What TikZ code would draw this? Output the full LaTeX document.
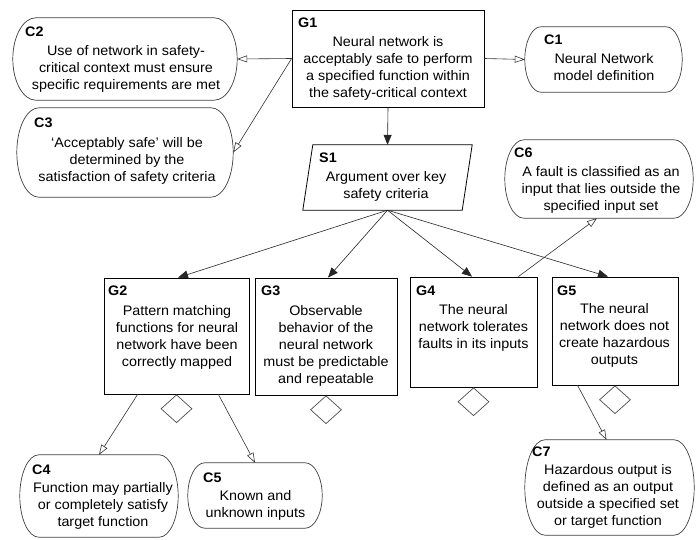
\documentclass[tikz,border=0pt]{standalone}
\usepackage{fontspec}
\setmainfont[FakeStretch=1.04]{Liberation Sans}
\usetikzlibrary{shapes.geometric,arrows.meta}
\newcommand\ctxoutline[3]{%
  \draw[ctxline] ([xshift=#2]#1.north west) -- ([xshift=-#2]#1.north east)
    .. controls ([xshift={-0.448*#2}]#1.north east) and ([yshift={0.552*#3}]#1.east) .. (#1.east)
    .. controls ([yshift={-0.552*#3}]#1.east) and ([xshift={-0.448*#2}]#1.south east) .. ([xshift=-#2]#1.south east)
    -- ([xshift=#2]#1.south west)
    .. controls ([xshift={0.448*#2}]#1.south west) and ([yshift={-0.552*#3}]#1.west) .. (#1.west)
    .. controls ([yshift={0.552*#3}]#1.west) and ([xshift={0.448*#2}]#1.north west) .. ([xshift=#2]#1.north west)
    -- cycle;}
\begin{document}
\begin{tikzpicture}[x=1pt,y=-1pt,
  every node/.style={font=\fontsize{13.8}{17}\selectfont},
  goalbox/.style={draw=black, line width=0.8pt, rectangle, inner sep=0pt},
  ctxbox/.style={draw=none, rectangle, inner sep=0pt},
  ctxline/.style={draw=black!75, line width=0.7pt},
  stratbox/.style={draw=none, rectangle, inner sep=0pt},
  stratline/.style={draw=black, line width=0.8pt},
  undev/.style={draw=black!70, line width=0.7pt, diamond, inner sep=0pt, minimum width=31pt, minimum height=28pt, anchor=north},
  lbl/.style={anchor=base west, inner sep=0pt, font=\fontsize{13.8}{17}\selectfont\bfseries},
  body/.style={anchor=base, inner sep=0pt, align=center},
  supp/.style={draw=black!85, line width=0.6pt, -{Triangle[length=10pt,width=8pt]}},
  ctxarr/.style={draw=black!80, line width=0.6pt, -{Triangle[open,length=10pt,width=7pt]}},
]
\fill[white] (0,0) rectangle (696,540);
\useasboundingbox (0,0) rectangle (696,540);

% goals
\node[goalbox, minimum width=192pt, minimum height=97pt] (G1) at (388,58.5) {};
\node[goalbox, minimum width=145pt, minimum height=116pt] (G2) at (176.5,336) {};
\node[goalbox, minimum width=142pt, minimum height=117pt] (G3) at (326,336.5) {};
\node[goalbox, minimum width=127pt, minimum height=110pt] (G4) at (473.5,332) {};
\node[goalbox, minimum width=126pt, minimum height=108pt] (G5) at (615,331) {};

% strategy
\node[stratbox, minimum width=169pt, minimum height=65pt] (S1) at (387.5,177.5) {};
\draw[stratline] ([xshift=10pt]S1.north west) -- (S1.north east)
  -- ([xshift=-10pt]S1.south east) -- (S1.south west) -- cycle;

% contexts
\node[ctxbox, minimum width=157pt, minimum height=65pt] (C1) at (603.5,59.5) {};
\node[ctxbox, minimum width=224pt, minimum height=82pt] (C2) at (125,59) {};
\node[ctxbox, minimum width=216pt, minimum height=89pt] (C3) at (125,152.5) {};
\node[ctxbox, minimum width=158pt, minimum height=82pt] (C4) at (99,496) {};
\node[ctxbox, minimum width=134pt, minimum height=65pt] (C5) at (255,495.5) {};
\node[ctxbox, minimum width=188pt, minimum height=78pt] (C6) at (599,179) {};
\node[ctxbox, minimum width=169pt, minimum height=95pt] (C7) at (609.5,487.5) {};
\ctxoutline{C1}{16}{32.5}
\ctxoutline{C2}{23}{41}
\ctxoutline{C3}{22}{44.5}
\ctxoutline{C4}{19}{41}
\ctxoutline{C5}{17}{32.5}
\ctxoutline{C6}{19}{39}
\ctxoutline{C7}{20}{47.5}

% undeveloped diamonds
\node[undev] (G2d) at (G2.south) {};
\node[undev] (G3d) at (G3.south) {};
\node[undev] (G4d) at (G4.south) {};
\node[undev] (G5d) at (G5.south) {};

% texts (body nodes are placed at the baseline of their last line)
\node[lbl] (G1l) at (298,28) {G1};
\node[body] (G1t) at (388,98) {Neural network is\\acceptably safe to perform\\a specified function within\\the safety-critical context};
\node[lbl] (C1l) at (544,45) {C1};
\node[body] (C1t) at (604,81) {Neural Network\\model definition};
\node[lbl] (C2l) at (25,37) {C2};
\node[body] (C2t) at (126,90) {Use of network in safety-\\critical context must ensure\\specific requirements are met};
\node[lbl] (C3l) at (34,128) {C3};
\node[body] (C3t) at (127,182) {‘Acceptably safe’ will be\\determined by the\\satisfaction of safety criteria};
\node[lbl] (S1l) at (319,163) {S1};
\node[body] (S1t) at (386,199) {Argument over key\\safety criteria};
\node[lbl] (C6l) at (514,158) {C6};
\node[body] (C6t) at (601,211) {A fault is classified as an\\input that lies outside the\\specified input set};
\node[lbl] (G2l) at (108,295) {G2};
\node[body] (G2t) at (177,366) {Pattern matching\\functions for neural\\network have been\\correctly mapped};
\node[lbl] (G3l) at (261,295) {G3};
\node[body] (G3t) at (326,383) {Observable\\behavior of the\\neural network\\must be predictable\\and repeatable};
\node[lbl] (G4l) at (416,295) {G4};
\node[body] (G4t) at (473.5,348) {The neural\\network tolerates\\faults in its inputs};
\node[lbl] (G5l) at (557,295) {G5};
\node[body] (G5t) at (614.5,364.5) {The neural\\network does not\\create hazardous\\outputs};
\node[lbl] (C4l) at (32,474) {C4};
\node[body] (C4t) at (103,526) {Function may partially\\or completely satisfy\\target function};
\node[lbl] (C5l) at (203,482) {C5};
\node[body] (C5t) at (255.5,517) {Known and\\unknown inputs};
\node[lbl] (C7l) at (532,456) {C7};
\node[body] (C7t) at (608,525) {Hazardous output is\\defined as an output\\outside a specified set\\or target function};

% connectors
\draw[ctxarr] (G1.west) -- (C2.east);
\draw[ctxarr] (G1.west) -- (C3.east);
\draw[ctxarr] (G1.east) -- (C1.west);
\draw[supp] (G1.south) -- (S1.north);
\draw[supp] (S1.south) -- ([xshift=1.5pt]G2.north);
\draw[supp] (S1.south) -- ([xshift=2pt]G3.north);
\draw[supp] (S1.south) -- ([xshift=-1.5pt]G4.north);
\draw[supp] (S1.south) -- ([xshift=-7pt]G5.north);
\draw[ctxarr] ([xshift=-19pt]G4.north east) -- ([xshift=-2pt]C6.south);
\draw[ctxarr] ([xshift=34pt]G2.south west) -- (C4.north);
\draw[ctxarr] ([xshift=-31pt]G2.south east) -- (C5.north);
\draw[ctxarr] ([xshift=26pt]G5.south west) -- ([xshift=-3pt]C7.north);
\end{tikzpicture}
\end{document}
